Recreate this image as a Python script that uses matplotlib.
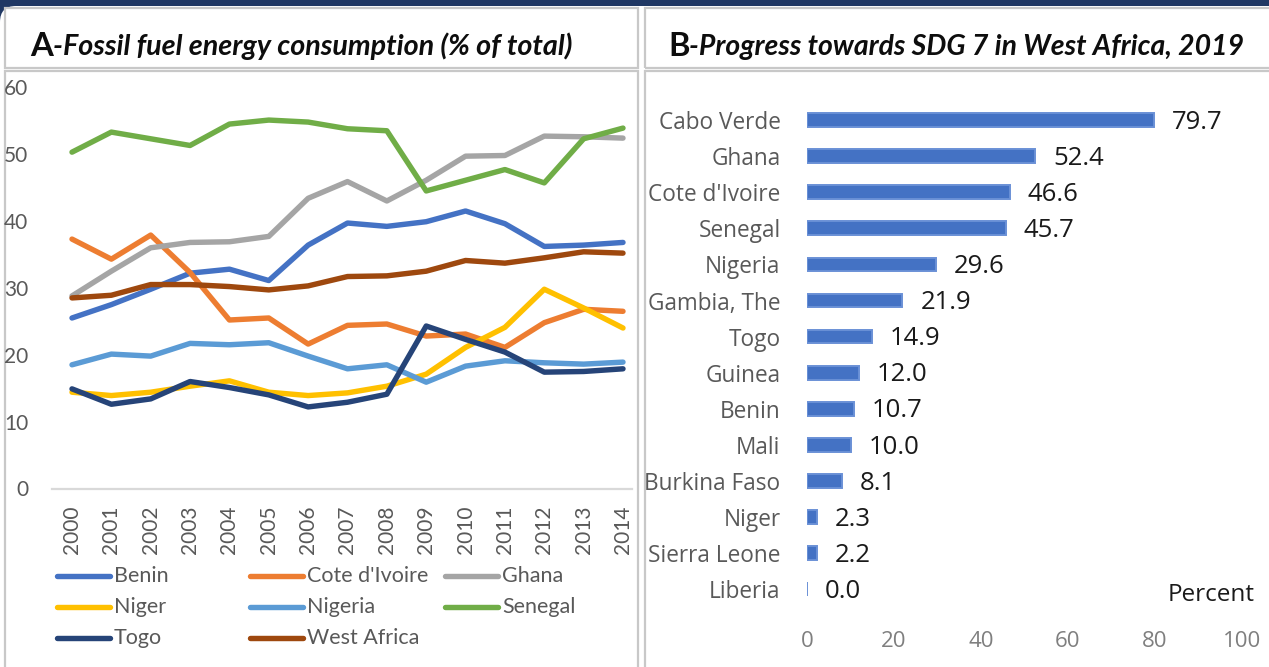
import matplotlib
matplotlib.use("Agg")
import matplotlib.pyplot as plt
from matplotlib.patches import Rectangle, FancyBboxPatch
from matplotlib.lines import Line2D
from matplotlib.transforms import IdentityTransform

# ---------------- data ----------------
years = [str(y) for y in range(2000, 2015)]
benin = [25.5, 27.5, 29.8, 32.2, 32.8, 31.1, 36.4, 39.7, 39.2, 39.9, 41.5, 39.6, 36.2, 36.4, 36.8]
cote_divoire = [37.3, 34.3, 37.9, 32.3, 25.2, 25.5, 21.6, 24.4, 24.6, 22.8, 23.1, 21.1, 24.8, 26.8, 26.5]
ghana = [28.8, 32.5, 36.0, 36.8, 36.9, 37.7, 43.4, 45.9, 43.0, 46.1, 49.7, 49.8, 52.7, 52.6, 52.4]
niger = [14.4, 13.9, 14.4, 15.3, 16.1, 14.4, 13.9, 14.3, 15.3, 17.1, 21.1, 24.1, 29.8, 27.0, 24.0]
nigeria = [18.5, 20.1, 19.8, 21.7, 21.5, 21.8, 19.8, 17.9, 18.5, 15.9, 18.3, 19.1, 18.8, 18.6, 18.9]
senegal = [50.3, 53.3, 52.3, 51.3, 54.5, 55.1, 54.8, 53.8, 53.5, 44.5, 46.1, 47.7, 45.7, 52.3, 53.9]
togo = [14.9, 12.6, 13.4, 16.0, 15.1, 14.0, 12.2, 12.9, 14.1, 24.3, 22.3, 20.4, 17.4, 17.5, 17.9]
west_africa = [28.5, 28.9, 30.5, 30.5, 30.2, 29.7, 30.3, 31.7, 31.8, 32.5, 34.1, 33.7, 34.5, 35.4, 35.2]

series_names = ["Benin", "Cote d'Ivoire", "Ghana", "Niger", "Nigeria", "Senegal", "Togo", "West Africa"]
series_values = [benin, cote_divoire, ghana, niger, nigeria, senegal, togo, west_africa]
series_colors = ["#4472C4", "#ED7D31", "#A5A5A5", "#FFC000", "#5B9BD5", "#70AD47", "#264478", "#9E480E"]
y_ticks_a = [0, 10, 20, 30, 40, 50, 60]

countries_b = ["Cabo Verde", "Ghana", "Cote d'Ivoire", "Senegal", "Nigeria", "Gambia, The", "Togo",
               "Guinea", "Benin", "Mali", "Burkina Faso", "Niger", "Sierra Leone", "Liberia"]
progress_b = [79.7, 52.4, 46.6, 45.7, 29.6, 21.9, 14.9, 12.0, 10.7, 10.0, 8.1, 2.3, 2.2, 0.0]
x_ticks_b = [0, 20, 40, 60, 80, 100]

title_a_letter = "A"
title_a_text = "-Fossil fuel energy consumption (% of total)"
title_b_letter = "B"
title_b_text = "-Progress towards SDG 7 in West Africa, 2019"

# ---------------- figure ----------------
W, H = 1269, 667
fig = plt.figure(figsize=(W / 100, H / 100), dpi=100)
fig.patch.set_facecolor("white")


def fx(x):
    return x / W


def fy(y):
    return 1 - y / H


# top dark band with rounded inner corner
fig.patches.append(Rectangle((0, H - 30), W, 30, transform=IdentityTransform(),
                             facecolor="#203864", edgecolor="none", zorder=-2))
fig.patches.append(FancyBboxPatch((0, -40), W + 40, H - 6 + 40, boxstyle="round,pad=0,rounding_size=16",
                                  transform=IdentityTransform(), facecolor="white",
                                  edgecolor="none", zorder=-1))

border = "#C8C8C8"


def box(x0, y0, x1, y1):
    fig.patches.append(Rectangle((fx(x0), fy(y1)), fx(x1) - fx(x0), fy(y0) - fy(y1),
                                 transform=fig.transFigure, facecolor="none",
                                 edgecolor=border, lw=1.6, zorder=0))


box(5, 8, 638, 68)
box(5, 71, 638, 700)
box(645, 8, 1300, 68)
box(645, 71, 1300, 700)

# ---------------- titles ----------------
renderer = fig.canvas.get_renderer()


def title(x, y, letter, text, size):
    t1 = fig.text(fx(x), fy(y), letter, fontsize=size + 3, fontweight="bold", family="Lato",
                  va="center_baseline", ha="left", color="#0D0D0D")
    bb = t1.get_window_extent(renderer)
    fig.text(bb.x1 / W, fy(y), text, fontsize=size, fontweight="bold", style="italic",
             family="Lato", va="center_baseline", ha="left", color="#0D0D0D")


title(30, 44, title_a_letter, title_a_text, 20.7)
title(668, 44, title_b_letter, title_b_text, 20.4)

# ---------------- panel A ----------------
ax_left, ax_right = 52, 632
y0px, y60px = 488.5, 87.3
x2000, x2014 = 72, 623
step = (x2014 - x2000) / 14
ax = fig.add_axes([fx(ax_left), fy(y0px), fx(ax_right) - fx(ax_left), (y0px - y60px) / H])
ax.set_zorder(2)
ax.set_xlim(-(x2000 - ax_left) / step, 14 + (ax_right - x2014) / step)
ax.set_ylim(0, 60)
xs = list(range(len(years)))
for name, vals, col in zip(series_names, series_values, series_colors):
    ax.plot(xs, vals, color=col, lw=3.9, solid_joinstyle="round", solid_capstyle="round",
            label=name, clip_on=False)
for s in ["top", "right", "left"]:
    ax.spines[s].set_visible(False)
ax.spines["bottom"].set_color("#D9D9D9")
ax.spines["bottom"].set_linewidth(1.6)
ax.set_xticks(xs)
ax.set_xticklabels(years, rotation=90, fontsize=15, color="#595959", family="Lato")
ax.set_yticks(y_ticks_a)
ax.set_yticklabels([str(v) for v in y_ticks_a], fontsize=15, color="#595959", family="Lato")
ax.tick_params(axis="x", length=0, pad=12)
ax.tick_params(axis="y", length=0, pad=17)
ax.patch.set_alpha(0)

# legend (manual layout, 3 columns)
col_x = [57, 250, 445]
row_y = [576, 607, 638]
for i, (name, col) in enumerate(zip(series_names, series_colors)):
    r, c = divmod(i, 3)
    x0 = col_x[c]
    yy = row_y[r]
    fig.lines.append(Line2D([fx(x0), fx(x0 + 53)], [fy(yy), fy(yy)], transform=fig.transFigure,
                            color=col, lw=3.9, solid_capstyle="round", zorder=3))
    fig.text(fx(x0 + 57), fy(yy), name, fontsize=15.5, color="#595959", family="Lato",
             va="center", ha="left", zorder=3)

# ---------------- panel B ----------------
bx0, bx1 = 807, 1242
first_bar, bar_step = 120, 36.1
n = len(countries_b)
top_px = first_bar - bar_step / 2
bot_px = first_bar + bar_step * (n - 1) + bar_step / 2
axb = fig.add_axes([fx(bx0), fy(bot_px), fx(bx1) - fx(bx0), (bot_px - top_px) / H])
axb.set_zorder(2)
ypos = list(range(n))
axb.barh(ypos, progress_b, height=0.38, color="#4472C4", edgecolor="#6A90D6", lw=1.4)
axb.set_xlim(0, 100)
axb.set_ylim(n - 0.5, -0.5)
for s in axb.spines.values():
    s.set_visible(False)
axb.set_yticks(ypos)
axb.set_yticklabels(countries_b, fontsize=16.3, color="#595959", family="Open Sans")
axb.set_xticks(x_ticks_b)
axb.set_xticklabels([str(v) for v in x_ticks_b], fontsize=16, color="#7F7F7F", family="Open Sans")
axb.tick_params(axis="y", length=0, pad=19)
axb.tick_params(axis="x", length=0, pad=17)
axb.patch.set_alpha(0)
px_per_unit = (bx1 - bx0) / 100
for yi, v in zip(ypos, progress_b):
    axb.text(v + 18 / px_per_unit, yi + 0.06, f"{v:.1f}", fontsize=18.5, color="#1A1A1A",
             family="Open Sans", va="center", ha="left")

fig.text(fx(1168), fy(595), "Percent", fontsize=17.5, color="#1A1A1A", family="Open Sans",
         va="center", ha="left", zorder=3)

fig.savefig("out.png", dpi=100, facecolor="white")
